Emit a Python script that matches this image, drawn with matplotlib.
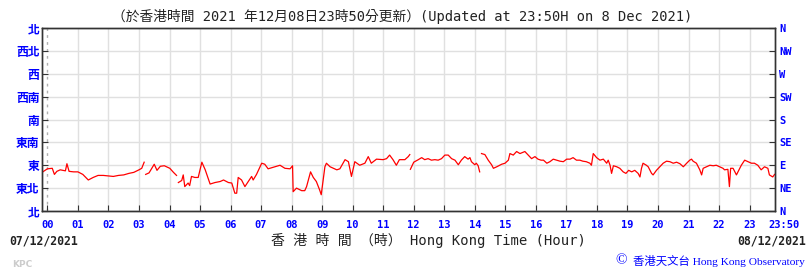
import matplotlib
matplotlib.use('Agg')
import matplotlib.pyplot as plt
import numpy as np

# wind direction (degrees) against HK time (hours); nan = gap in record
hours = [-0.15, 0.0, 0.16, 0.23, 0.31, 0.42, 0.59, 0.64, 0.71, 0.86,
         1.0, 1.16, 1.34, 1.5, 1.66, 1.83, 2.0, 2.16, 2.33, 2.5,
         2.67, 2.83, 3.0, 3.09, 3.17, 3.2, 3.22, 3.33, 3.5, 3.59,
         3.7, 3.83, 4.01, 4.13, 4.23, 4.26, 4.29, 4.40, 4.45, 4.50,
         4.61, 4.66, 4.72, 4.83, 4.94, 5.06, 5.17, 5.33, 5.49, 5.66,
         5.77, 5.93, 6.04, 6.14, 6.20, 6.25, 6.36, 6.47, 6.58, 6.69,
         6.74, 6.85, 7.02, 7.12, 7.23, 7.46, 7.62, 7.78, 7.95, 8.03,
         8.05, 8.16, 8.33, 8.43, 8.49, 8.62, 8.71, 8.81, 8.92, 8.97,
         9.09, 9.14, 9.26, 9.37, 9.48, 9.58, 9.75, 9.86, 9.96, 10.07,
         10.23, 10.40, 10.51, 10.61, 10.78, 11.00, 11.11, 11.21, 11.32, 11.43,
         11.53, 11.71, 11.82, 11.87, 11.88, 11.89, 12.0, 12.15, 12.26, 12.36,
         12.47, 12.58, 12.69, 12.80, 12.91, 13.02, 13.13, 13.24, 13.35, 13.46,
         13.56, 13.67, 13.78, 13.84, 13.89, 14.0, 14.05, 14.11, 14.16, 14.18,
         14.22, 14.33, 14.44, 14.55, 14.61, 14.72, 14.88, 14.99, 15.10, 15.15,
         15.26, 15.37, 15.48, 15.64, 15.75, 15.86, 15.97, 16.07, 16.17, 16.25,
         16.36, 16.46, 16.57, 16.68, 16.79, 16.90, 17.01, 17.12, 17.22, 17.33,
         17.44, 17.54, 17.65, 17.77, 17.82, 17.88, 17.99, 18.10, 18.21, 18.32,
         18.37, 18.43, 18.48, 18.54, 18.65, 18.75, 18.86, 18.95, 19.04, 19.14,
         19.24, 19.35, 19.41, 19.46, 19.51, 19.62, 19.68, 19.79, 19.84, 19.95,
         20.06, 20.17, 20.28, 20.39, 20.50, 20.61, 20.72, 20.83, 20.94, 21.04,
         21.10, 21.15, 21.26, 21.32, 21.37, 21.43, 21.48, 21.59, 21.70, 21.81,
         21.91, 22.02, 22.13, 22.18, 22.29, 22.34, 22.38, 22.46, 22.57, 22.62,
         22.73, 22.84, 22.95, 23.06, 23.16, 23.27, 23.38, 23.49, 23.60, 23.65,
         23.76, 23.82]
direction = [77, 83, 84, 72, 78, 81, 79, 93, 78, 77,
             77, 72, 61, 66, 70, 70, 69, 68, 70, 71,
             74, 76, 81, 84, 96, np.nan, 72, 75, 92, 80,
             88, 89, 84, 76, 70, np.nan, 56, 60, 71, 48,
             55, 50, 68, 66, 66, 96, 81, 53, 56, 58,
             61, 56, 55, 35, 35, 66, 61, 48, 58, 68,
             61, 72, 94, 92, 83, 87, 90, 84, 83, 89,
             38, 45, 40, 40, 48, 77, 66, 58, 41, 32,
             87, 94, 87, 84, 81, 83, 101, 97, 68, 97,
             90, 94, 107, 94, 102, 101, 103, 110, 101, 90,
             101, 101, 107, 111, np.nan, 82, 96, 101, 105, 101,
             103, 100, 101, 100, 103, 110, 110, 103, 100, 91,
             100, 107, 102, 105, 97, 91, 94, 89, 77, np.nan,
             113, 111, 100, 91, 84, 87, 92, 94, 100, 113,
             110, 117, 113, 117, 110, 103, 107, 102, 100, 100,
             94, 97, 102, 100, 98, 97, 102, 102, 105, 100,
             100, 98, 97, 94, 90, 113, 105, 100, 102, 94,
             100, 90, 74, 89, 87, 84, 77, 74, 80, 77,
             80, 74, 67, 84, 94, 90, 87, 74, 71, 80,
             87, 94, 98, 97, 94, 96, 93, 87, 94, 100,
             102, 98, 94, 87, 81, 71, 84, 87, 90, 89,
             90, 87, 84, 81, 82, 48, 84, 84, 71, 77,
             90, 100, 97, 94, 94, 90, 81, 87, 84, 71,
             67, 72]

x_ticks = list(range(24))
x_labels = ['%02d' % h for h in x_ticks]
y_ticks = [0, 45, 90, 135, 180, 225, 270, 315, 360]
left_labels = ['北', '東北', '東', '東南', '南', '西南', '西', '西北', '北']
right_labels = ['N', 'NE', 'E', 'SE', 'S', 'SW', 'W', 'NW', 'N']

blue = '#0000ff'
dark = '#333333'
mono = ['DejaVu Sans Mono', 'Noto Sans CJK TC']

fig = plt.figure(figsize=(8.12, 2.76), dpi=100)
ax = fig.add_axes([42.3 / 812, 1 - 211 / 276, 732.7 / 812, 183 / 276])
ax.plot(hours, direction, color='#ff0000', lw=0.9)
ax.set_xlim(-1 / 6, 23 + 5 / 6)
ax.set_ylim(0, 360)

ax.set_xticks(x_ticks)
ax.set_xticklabels(x_labels, family='DejaVu Sans Mono', weight='bold', fontsize=7.5)
ax.set_yticks(y_ticks)
ax.set_yticklabels(left_labels, family='Noto Sans CJK TC', weight='bold', fontsize=8.5)
ax.tick_params(axis='x', direction='in', length=4, color=dark, labelcolor=blue, pad=6.5)
ax.tick_params(axis='y', direction='in', length=4, color=dark, labelcolor=blue, pad=2)

ax.grid(True, color='#e0e0e0', lw=1)
ax.set_axisbelow(True)
ax.get_xgridlines()[0].set_linestyle((0, (2, 3)))
ax.get_xgridlines()[0].set_color('#b0b0b0')

ax2 = ax.twinx()
ax2.set_ylim(0, 360)
ax2.set_yticks(y_ticks)
ax2.set_yticklabels(right_labels, family='DejaVu Sans Mono', weight='bold', fontsize=7.5)
ax2.tick_params(axis='y', direction='in', length=4, color=dark, labelcolor=blue, pad=3)

for a in (ax, ax2):
    for s in a.spines.values():
        s.set_color(dark)
        s.set_linewidth(1)

ax.annotate('23:50', xy=(23 + 5 / 6, 0), xycoords=('data', 'axes fraction'),
            xytext=(6.5, -6.7), textcoords='offset points', ha='center', va='top',
            family='DejaVu Sans Mono', weight='bold', fontsize=7.5, color=blue)

fig.text(0.495, 1 - 17 / 276,
         '（於香港時間 2021 年12月08日23時50分更新）(Updated at 23:50H on 8 Dec 2021)',
         ha='center', va='center', family=mono, fontsize=9.9, color='#222222')
fig.text(9.3 / 812, 1 - 240.5 / 276, '07/12/2021', ha='left', va='center',
         family='DejaVu Sans Mono', weight='bold', fontsize=8.3, color='#222222')
fig.text(805.7 / 812, 1 - 240.5 / 276, '08/12/2021', ha='right', va='center',
         family='DejaVu Sans Mono', weight='bold', fontsize=8.3, color='#222222')
fig.text(428 / 812, 1 - 240 / 276, '香 港 時 間 （時） Hong Kong Time (Hour)',
         ha='center', va='center', family=mono, fontsize=10, color='#222222')
fig.text(615 / 812, 1 - 260.7 / 276, '©', ha='left', va='center',
         family='Liberation Serif', fontsize=11, color=blue)
fig.text(805 / 812, 1 - 260.7 / 276, '香港天文台 Hong Kong Observatory',
         ha='right', va='center', family=['Liberation Serif', 'Noto Sans CJK TC'],
         fontsize=8.2, color=blue)
fig.text(12 / 812, 1 - 264.3 / 276, 'KPC', ha='left', va='center',
         family='DejaVu Sans', weight='bold', fontsize=6.5, color='#cccccc')

fig.savefig('out.png', dpi=100)
